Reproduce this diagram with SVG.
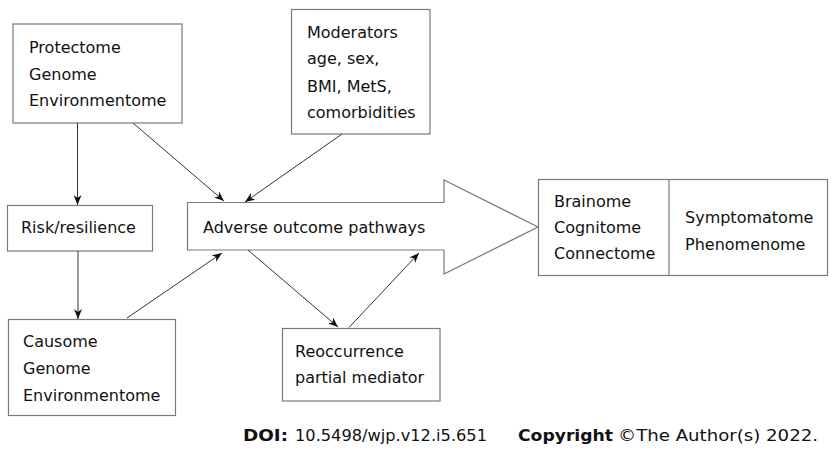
<svg xmlns="http://www.w3.org/2000/svg" width="831" height="452" viewBox="0 0 831 452">
<style>
text{font-family:"DejaVu Sans","Verdana",sans-serif;font-size:16px;fill:#111}
.box{fill:#fff;stroke:#7a7a7a;stroke-width:1.2}
.con{fill:none;stroke:#333;stroke-width:1}
.ft{font-size:16.5px}
.b{font-weight:bold}
</style>
<defs>
<marker id="ah" markerUnits="userSpaceOnUse" markerWidth="10" markerHeight="8" refX="10" refY="4" orient="auto">
<path d="M0,0 L10,4 L0,8 L3,4 z" fill="#111"/>
</marker>
</defs>
<rect width="831" height="452" fill="#fff"/>
<g id="protectome">
<rect class="box" x="13" y="24" width="169" height="99"/>
<text x="29" y="53">Protectome</text>
<text x="29" y="80">Genome</text>
<text x="29" y="106">Environmentome</text>
</g>
<g id="moderators">
<rect class="box" x="291.5" y="9.5" width="138.5" height="124.5"/>
<text x="307" y="38">Moderators</text>
<text x="307" y="64">age, sex,</text>
<text x="307" y="92">BMI, MetS,</text>
<text x="307" y="118">comorbidities</text>
</g>
<g id="risk">
<rect class="box" x="7.5" y="205.5" width="145" height="45.5"/>
<text x="21" y="233">Risk/resilience</text>
</g>
<g id="adverse">
<path class="box" d="M187.5,202.5 H444 V180 L538,227 L444,274 V250 H187.5 Z"/>
<text x="203" y="233">Adverse outcome pathways</text>
</g>
<g id="outcome">
<rect class="box" x="538.5" y="179.5" width="289" height="96"/>
<line class="box" x1="669" y1="179.5" x2="669" y2="275.5"/>
<text x="554" y="207">Brainome</text>
<text x="554" y="233">Cognitome</text>
<text x="554" y="259">Connectome</text>
<text x="685" y="223">Symptomatome</text>
<text x="685" y="250">Phenomenome</text>
</g>
<g id="causome">
<rect class="box" x="8.5" y="319.5" width="167" height="96"/>
<text x="23" y="347">Causome</text>
<text x="23" y="374">Genome</text>
<text x="23" y="401">Environmentome</text>
</g>
<g id="reoccurrence">
<rect class="box" x="282.5" y="328.5" width="157.5" height="72.5"/>
<text x="295" y="357">Reoccurrence</text>
<text x="295" y="383">partial mediator</text>
</g>
<g id="connectors">
<line class="con" x1="77.5" y1="123" x2="77.5" y2="205" marker-end="url(#ah)"/>
<line class="con" x1="133" y1="123" x2="224" y2="201" marker-end="url(#ah)"/>
<line class="con" x1="342" y1="134" x2="245" y2="202" marker-end="url(#ah)"/>
<line class="con" x1="78" y1="251" x2="78" y2="319" marker-end="url(#ah)"/>
<line class="con" x1="127" y1="318" x2="222" y2="253" marker-end="url(#ah)"/>
<line class="con" x1="248" y1="250" x2="338" y2="327" marker-end="url(#ah)"/>
<line class="con" x1="349" y1="327.5" x2="419" y2="253" marker-end="url(#ah)"/>
</g>
<g id="footer">
<text class="ft b" x="243" y="441" textLength="45" lengthAdjust="spacingAndGlyphs">DOI:</text>
<text class="ft" x="295" y="441" textLength="192" lengthAdjust="spacingAndGlyphs">10.5498/wjp.v12.i5.651</text>
<text class="ft b" x="518" y="441" textLength="95" lengthAdjust="spacingAndGlyphs">Copyright</text>
<text class="ft" x="618" y="441" textLength="200" lengthAdjust="spacingAndGlyphs">©The Author(s) 2022.</text>
</g>
</svg>
